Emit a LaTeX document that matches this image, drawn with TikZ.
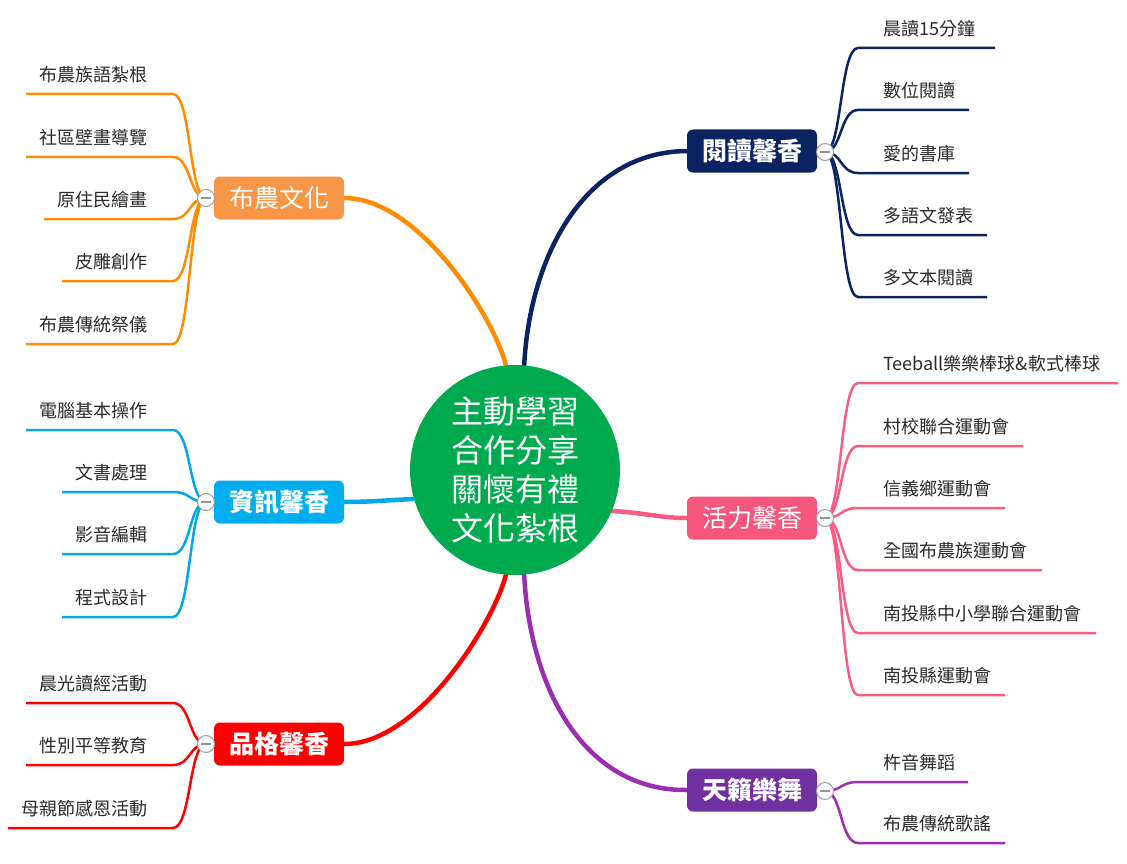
\documentclass[tikz,border=0pt]{standalone}
\usepackage{fontspec}
\setmainfont{Noto Sans CJK TC}
\usetikzlibrary{backgrounds}
\pgfdeclarelayer{bottom}
\pgfdeclarelayer{background}
\pgfsetlayers{bottom,background,main}
\definecolor{txt}{HTML}{2A2A2A}
\definecolor{cRead}{HTML}{0B2360}
\definecolor{bHuo}{HTML}{F5577C}
\definecolor{cHuo}{HTML}{F85C80}
\definecolor{bTian}{HTML}{7030A0}
\definecolor{cTian}{HTML}{9B2DB0}
\definecolor{bBun}{HTML}{F79646}
\definecolor{cBun}{HTML}{FF8C00}
\definecolor{bZx}{HTML}{00AEEF}
\definecolor{cZx}{HTML}{00A8E8}
\definecolor{cPg}{HTML}{FF0000}
\definecolor{cGreen}{HTML}{00AA4F}
\begin{document}
\begin{tikzpicture}[x=1pt,y=-1pt,
  mainbox/.style={rounded corners=6pt, minimum width=130pt, minimum height=43pt, text=white, font=\fontsize{25}{30}\selectfont, inner sep=0pt},
  boldbox/.style={mainbox, font=\fontsize{25}{30}\selectfont\bfseries},
  kid/.style={text=txt, font=\fontsize{18}{22}\selectfont, inner sep=0pt},
  mconn/.style={line width=4.5pt, line cap=round},
  kconn/.style={line width=2.5pt},
  tog/.style={circle, draw=gray!75, fill=white, minimum size=17pt, inner sep=0pt, line width=1pt,
    path picture={\draw[gray!85, line width=1.6pt] ([xshift=-5pt]path picture bounding box.center) -- ([xshift=5pt]path picture bounding box.center);}}
]
\begin{pgfonlayer}{bottom}
\fill[white] (0,0) rectangle (1127,864);
\end{pgfonlayer}
\useasboundingbox (0,0) rectangle (1127,864);

% centre
\node[circle, fill=cGreen, minimum size=210pt, inner sep=0pt, text=white, align=center,
  font=\fontsize{32}{39}\selectfont] (c) at (515,470) {主動學習\\合作分享\\關懷有禮\\文化紮根};

% main topics
\node[boldbox, fill=cRead] (rd) at (752,151) {閱讀馨香};
\node[mainbox, fill=bHuo] (hl) at (752,518) {活力馨香};
\node[boldbox, fill=bTian] (tl) at (752,790) {天籟樂舞};
\node[mainbox, fill=bBun] (bn) at (279,198) {布農文化};
\node[boldbox, fill=bZx] (zx) at (279,502) {資訊馨香};
\node[boldbox, fill=cPg] (pg) at (279,744) {品格馨香};

% toggles (positions)
\coordinate (rdT) at (825,152);
\coordinate (hlT) at (825,518);
\coordinate (tlT) at (825,791);
\coordinate (bnT) at (206,198);
\coordinate (zxT) at (206,502);
\coordinate (pgT) at (206,744);

\begin{scope}[on background layer]
% main connectors
\draw[mconn, cBun] (c.95) .. controls (495,320) and (420,198) .. (bn.east);
\draw[mconn, cRead] (c.85) .. controls (530,255) and (585,152) .. (rd.west);
\draw[mconn, cPg] (c.-95) .. controls (495,620) and (420,744) .. (pg.east);
\draw[mconn, cTian] (c.-85) .. controls (530,690) and (585,791) .. (tl.west);
\draw[mconn, cHuo] (c.-23) .. controls (640,512) and (660,518) .. (hl.west);
\draw[mconn, cZx] (c.196) .. controls (390,500) and (370,502) .. (zx.east);

% right children
\foreach \n/\y/\e/\t in {1/48/995/晨讀15分鐘, 2/110/969/數位閱讀, 3/173/969/愛的書庫, 4/235/987/多語文發表, 5/297/987/多文本閱讀}{
  \coordinate (rdE\n) at (\e,\y);
  \node[kid, anchor=west] (rdK\n) at (883,\y-19) {\t};
  \draw[kconn, cRead] (rdT) .. controls (842,152) and (840,\y) .. (858,\y) -- (rdE\n);
}
\foreach \n/\y/\e/\t in {1/383/1118/Teeball樂樂棒球\&軟式棒球, 2/446/1023/村校聯合運動會, 3/508/1005/信義鄉運動會, 4/570/1042/全國布農族運動會, 5/633/1096/南投縣中小學聯合運動會, 6/695/1005/南投縣運動會}{
  \coordinate (hlE\n) at (\e,\y);
  \node[kid, anchor=west] (hlK\n) at (883,\y-19) {\t};
  \draw[kconn, cHuo] (hlT) .. controls (842,518) and (840,\y) .. (858,\y) -- (hlE\n);
}
\foreach \n/\y/\e/\t in {1/782/968/杵音舞蹈, 2/843/1005/布農傳統歌謠}{
  \coordinate (tlE\n) at (\e,\y);
  \node[kid, anchor=west] (tlK\n) at (883,\y-19) {\t};
  \draw[kconn, cTian] (tlT) .. controls (842,791) and (840,\y) .. (858,\y) -- (tlE\n);
}
% left children
\foreach \n/\y/\e/\t in {1/94/26/布農族語紮根, 2/157/26/社區壁畫導覽, 3/219/44/原住民繪畫, 4/281/62/皮雕創作, 5/344/26/布農傳統祭儀}{
  \coordinate (bnE\n) at (\e,\y);
  \node[kid, anchor=east] (bnK\n) at (148,\y-19) {\t};
  \draw[kconn, cBun] (bnT) .. controls (189,198) and (191,\y) .. (173,\y) -- (bnE\n);
}
\foreach \n/\y/\e/\t in {1/430/26/電腦基本操作, 2/492/62/文書處理, 3/554/62/影音編輯, 4/617/62/程式設計}{
  \coordinate (zxE\n) at (\e,\y);
  \node[kid, anchor=east] (zxK\n) at (148,\y-19) {\t};
  \draw[kconn, cZx] (zxT) .. controls (189,502) and (191,\y) .. (173,\y) -- (zxE\n);
}
\foreach \n/\y/\e/\t in {1/703/26/晨光讀經活動, 2/765/26/性別平等教育, 3/828/8/母親節感恩活動}{
  \coordinate (pgE\n) at (\e,\y);
  \node[kid, anchor=east] (pgK\n) at (148,\y-19) {\t};
  \draw[kconn, cPg] (pgT) .. controls (189,744) and (191,\y) .. (173,\y) -- (pgE\n);
}
\end{scope}

% toggle circles on top
\foreach \t in {rdT,hlT,tlT,bnT,zxT,pgT}{
  \node[tog] (\t c) at (\t) {};
}
\end{tikzpicture}
\end{document}
